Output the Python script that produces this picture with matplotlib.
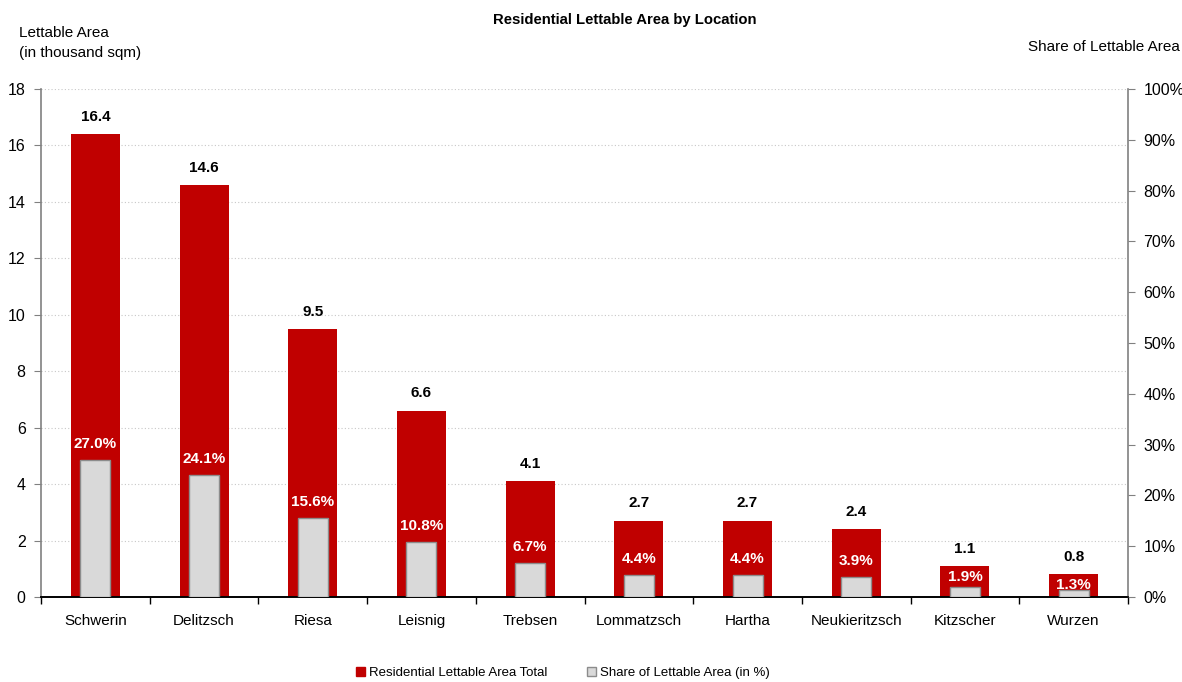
import matplotlib
matplotlib.use("Agg")
import matplotlib.pyplot as plt
from matplotlib.patches import Patch
from matplotlib.ticker import FixedLocator, FuncFormatter

plt.rcParams['font.family'] = ['Liberation Sans', 'DejaVu Sans']

locations = ["Schwerin", "Delitzsch", "Riesa", "Leisnig", "Trebsen",
             "Lommatzsch", "Hartha", "Neukieritzsch", "Kitzscher", "Wurzen"]
area_total = [16.4, 14.6, 9.5, 6.6, 4.1, 2.7, 2.7, 2.4, 1.1, 0.8]
area_share = [27.0, 24.1, 15.6, 10.8, 6.7, 4.4, 4.4, 3.9, 1.9, 1.3]

RED = "#C00000"
GREY = "#D9D9D9"
EDGE = "#8C8C8C"
AREA_MAX = 18
SHARE_MAX = 100

fig = plt.figure(figsize=(11.82, 6.82), dpi=100)
ax = fig.add_axes([41 / 1182, 1 - 597 / 682, (1128 - 41) / 1182, (597 - 89) / 682])
ax2 = ax.twinx()

x = list(range(len(locations)))

# Primary bars: total lettable area
ax.bar(x, area_total, width=0.45, color=RED, zorder=2)
ax.set_ylim(0, AREA_MAX)
ax.set_xlim(-0.5, len(locations) - 0.5)
ax.set_yticks(range(0, AREA_MAX + 1, 2))
ax.yaxis.grid(True, linestyle=(0, (1, 2)), color="#C8C8C8", linewidth=0.8, zorder=0)
ax.set_axisbelow(True)

for xi, v in zip(x, area_total):
    ax.annotate(f"{v:.1f}", (xi, v), xytext=(0, 12.5), textcoords="offset points",
                ha="center", va="center", fontsize=11, fontweight="bold", color="black")

# Secondary bars: share of lettable area
ax2.bar(x, area_share, width=0.276, color=GREY, edgecolor=EDGE, linewidth=1.0, zorder=3)
ax2.set_ylim(0, SHARE_MAX)
ax2.set_yticks(range(0, SHARE_MAX + 1, 10))
ax2.yaxis.set_major_formatter(FuncFormatter(lambda v, p: f"{v:.0f}%"))

# Share labels sit above the grey bar but stay inside the red bar
px_per_unit = ax.get_window_extent().height / AREA_MAX
for xi, s, t in zip(x, area_share, area_total):
    grey_top = s / SHARE_MAX * AREA_MAX
    y = min(grey_top + 16 / px_per_unit, t - 11 / px_per_unit)
    ax2.annotate(f"{s:.1f}%", (xi, y / AREA_MAX * SHARE_MAX),
                 ha="center", va="center", fontsize=11, fontweight="bold",
                 color="white", zorder=5)

# Category labels centred, separator ticks between categories
ax.set_xticks(x)
ax.set_xticklabels(locations, fontsize=11)
ax.tick_params(axis="x", which="major", length=0, pad=12)
ax.xaxis.set_minor_locator(FixedLocator([i - 0.5 for i in range(len(locations) + 1)]))
ax.tick_params(axis="x", which="minor", length=5, color="black", width=1)

ax.tick_params(axis="y", labelsize=11.5, length=5, color="#808080", pad=6)
ax2.tick_params(axis="y", labelsize=11.5, length=5, color="#808080", pad=6)

for a in (ax, ax2):
    a.spines["top"].set_visible(False)
    a.spines["left"].set_color("#808080")
    a.spines["right"].set_color("#808080")
    a.spines["bottom"].set_color("black")
    for side in ("left", "right", "bottom"):
        a.spines[side].set_linewidth(1.2)
ax2.spines["left"].set_visible(False)
ax.spines["right"].set_visible(False)

fig.text(625 / 1182, 1 - 20 / 682, "Residential Lettable Area by Location",
         ha="center", va="center", fontsize=10.7, fontweight="bold")
fig.text(19 / 1182, 1 - 43 / 682, "Lettable Area\n(in thousand sqm)",
         ha="left", va="center", fontsize=11, linespacing=1.5)
fig.text(1180 / 1182, 1 - 47 / 682, "Share of Lettable Area",
         ha="right", va="center", fontsize=11)

handles = [Patch(facecolor=RED, edgecolor=RED, label="Residential Lettable Area Total"),
           Patch(facecolor=GREY, edgecolor=EDGE, label="Share of Lettable Area (in %)")]
fig.legend(handles=handles, loc="center", bbox_to_anchor=(563 / 1182, 1 - 673 / 682),
           ncol=2, frameon=False, fontsize=9.5, handlelength=0.65, handleheight=0.65,
           handletextpad=0.35, columnspacing=3.0)

fig.savefig("out.png", dpi=100)
